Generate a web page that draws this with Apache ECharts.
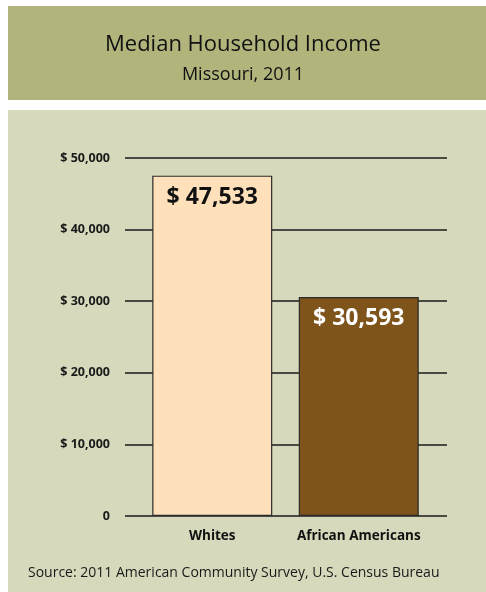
<!DOCTYPE html>
<html>
<head>
<meta charset="utf-8">
<style>
  html, body { margin: 0; padding: 0; background: #ffffff; }
  #chart { width: 486px; height: 592px; }
</style>
<script src="https://cdn.jsdelivr.net/npm/echarts@6/dist/echarts.min.js"></script>
</head>
<body>
<div id="chart"></div>
<script>
// Median household income by race, Missouri 2011
const categories = ['Whites', 'African Americans'];
const incomes = [47533, 30593];
const barColors = ['#fee1bb', '#7e541b'];
const labelColors = ['#111111', '#ffffff'];
const yTicks = [0, 10000, 20000, 30000, 40000, 50000];

const FONT = '"Open Sans", "Noto Sans", sans-serif';

function fmtMoney(v) {
  return v === 0 ? '0' : '$ ' + v.toLocaleString('en-US');
}

const chart = echarts.init(document.getElementById('chart'), null, { renderer: 'canvas' });

chart.setOption({
  backgroundColor: '#ffffff',
  animation: false,
  graphic: [
    { type: 'rect', z: -10, shape: { x: 8, y: 6, width: 478, height: 94 }, style: { fill: '#b1b57c' } },
    { type: 'rect', z: -10, shape: { x: 8, y: 110, width: 478, height: 482 }, style: { fill: '#d6d9bb' } },
    {
      type: 'text', left: 28, top: 566,
      style: { text: 'Source: 2011 American Community Survey, U.S. Census Bureau', fill: '#1a1a1a', font: '14px ' + FONT }
    }
  ],
  title: [
    { text: 'Median Household Income', left: 'center', top: 29, textStyle: { fontFamily: FONT, fontSize: 22, fontWeight: 'normal', color: '#111111' } },
    { text: 'Missouri, 2011', left: 'center', top: 61, textStyle: { fontFamily: FONT, fontSize: 18, fontWeight: 'normal', color: '#111111' } }
  ],
  grid: [
    // bars
    { left: 139, right: 54, top: 158, bottom: 76 },
    // horizontal rules across the plot
    { left: 125, right: 39, top: 158, bottom: 76 }
  ],
  xAxis: [
    {
      type: 'category', gridIndex: 0, data: categories,
      axisLine: { show: false }, axisTick: { show: false },
      axisLabel: { interval: 0, fontFamily: FONT, fontSize: 13.5, fontWeight: 'bold', color: '#111111', margin: 13 }
    },
    { type: 'category', gridIndex: 1, data: categories, show: false }
  ],
  yAxis: [
    {
      type: 'value', gridIndex: 0, min: 0, max: 50000, interval: 10000,
      axisLine: { show: false }, axisTick: { show: false }, splitLine: { show: false },
      axisLabel: { show: false }
    },
    {
      type: 'value', gridIndex: 1, min: 0, max: 50000, interval: 10000,
      axisLine: { show: false }, axisTick: { show: false },
      splitLine: { show: true, lineStyle: { color: '#1a1a1a', width: 1.5 } },
      axisLabel: {
        fontFamily: FONT, fontSize: 12.5, fontWeight: 'bold', color: '#1a1a1a', margin: 15,
        customValues: yTicks,
        formatter: fmtMoney
      }
    }
  ],
  series: [
    {
      type: 'bar', xAxisIndex: 0, yAxisIndex: 0, z: 5,
      barWidth: 120,
      data: incomes.map((v, i) => ({
        value: v,
        itemStyle: { color: barColors[i], borderColor: '#2b2b2b', borderWidth: 1.2 },
        label: { color: labelColors[i] }
      })),
      label: {
        show: true, position: 'insideTop', distance: 10,
        fontFamily: FONT, fontSize: 23, fontWeight: 'bold',
        formatter: p => fmtMoney(p.value)
      }
    }
  ]
});
</script>
</body>
</html>
